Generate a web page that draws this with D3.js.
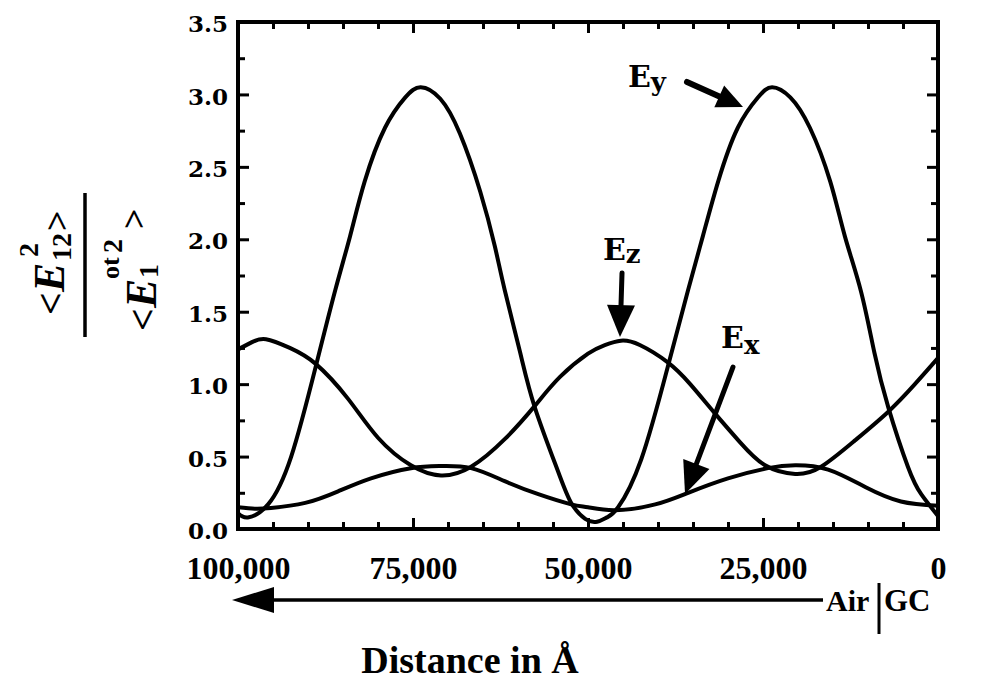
<!DOCTYPE html>
<html>
<head>
<meta charset="utf-8">
<script src="https://cdnjs.cloudflare.com/ajax/libs/d3/7.8.5/d3.min.js"></script>
<style>
  body { margin: 0; background: #fff; }
  svg { display: block; }
</style>
</head>
<body>
<svg id="chart"></svg>
<script>
// distance in Angstrom (100,000 at the left, 0 at the air/GC interface)
const eyX = [100000, 98600, 95700, 92400, 88900, 86100, 84000, 81900, 79000, 76100, 73900, 71100, 68300, 65400, 63300, 61900, 59700, 57600, 54300, 52400, 50400, 48700, 47300, 45700, 42400, 38600, 35700, 33600, 31400, 28600, 25700, 23700, 21100, 18300, 15400, 13300, 11000, 9100, 7100, 4300, 2400, 0];
const eyY = [0.11, 0.08, 0.17, 0.50, 1.12, 1.65, 2.02, 2.40, 2.77, 2.98, 3.05, 2.97, 2.73, 2.33, 1.95, 1.65, 1.22, 0.84, 0.40, 0.18, 0.07, 0.05, 0.08, 0.15, 0.48, 1.12, 1.65, 2.02, 2.40, 2.77, 2.98, 3.05, 2.98, 2.77, 2.40, 2.02, 1.64, 1.22, 0.84, 0.43, 0.24, 0.09];

const ezX = [100000, 98000, 96000, 92600, 88900, 84300, 80000, 75300, 71000, 66700, 61900, 57600, 54000, 50000, 47600, 45300, 42600, 38600, 35400, 31900, 28300, 24700, 20400, 16700, 11900, 7100, 3300, 0];
const ezY = [1.24, 1.29, 1.31, 1.25, 1.14, 0.90, 0.63, 0.44, 0.37, 0.43, 0.62, 0.85, 1.05, 1.21, 1.27, 1.30, 1.27, 1.15, 1.00, 0.80, 0.60, 0.44, 0.38, 0.43, 0.61, 0.81, 1.00, 1.18];

const exX = [100000, 97600, 95300, 90400, 85700, 81000, 75300, 71000, 66700, 61900, 57100, 52400, 50000, 46100, 40400, 35700, 30000, 24300, 20400, 15700, 10400, 5300, 0];
const exY = [0.15, 0.14, 0.145, 0.18, 0.26, 0.35, 0.42, 0.435, 0.42, 0.33, 0.24, 0.17, 0.15, 0.13, 0.17, 0.25, 0.35, 0.42, 0.44, 0.41, 0.29, 0.19, 0.16];

const xTicks = [100000, 75000, 50000, 25000, 0];
const yTicks = [0, 0.5, 1.0, 1.5, 2.0, 2.5, 3.0, 3.5];

const margin = { top: 22, right: 62, bottom: 152, left: 238 },
  width = 1000 - margin.left - margin.right,
  height = 681 - margin.top - margin.bottom;

const root = d3.select("#chart").attr("width", 1000).attr("height", 681);

const svg = root
  .append("g")
  .attr("transform", `translate(${margin.left},${margin.top})`);

const x = d3.scaleLinear().domain([100000, 0]).range([0, width]);
const y = d3.scaleLinear().domain([0, 3.5]).range([height, 0]);

const xMinor = d3.range(0, 100001, 5000).filter((d) => d % 25000 !== 0);
const yMinor = d3.range(0, 3.51, 0.25).filter((d) => d % 0.5 !== 0);

// inward ticks on all four sides
function tickRow(axis, values, size, transform) {
  svg
    .append("g")
    .attr("transform", transform)
    .call(axis.tickValues(values).tickSize(-size).tickSizeOuter(0).tickFormat(""))
    .call((g) => g.select(".domain").remove())
    .selectAll("line")
    .attr("stroke", "#000")
    .attr("stroke-width", 3);
}
tickRow(d3.axisBottom(x), xMinor, 7, `translate(0,${height})`);
tickRow(d3.axisBottom(x), xTicks, 11, `translate(0,${height})`);
tickRow(d3.axisTop(x), xMinor, 7, "translate(0,0)");
tickRow(d3.axisTop(x), xTicks, 11, "translate(0,0)");
tickRow(d3.axisLeft(y), yMinor, 7, "translate(0,0)");
tickRow(d3.axisLeft(y), yTicks, 11, "translate(0,0)");
tickRow(d3.axisRight(y), yMinor, 7, `translate(${width},0)`);
tickRow(d3.axisRight(y), yTicks, 11, `translate(${width},0)`);

// tick labels
svg
  .append("g")
  .attr("transform", `translate(0,${height})`)
  .call(d3.axisBottom(x).tickValues(xTicks).tickSize(0).tickPadding(27).tickFormat(d3.format(",")))
  .call((g) => g.select(".domain").remove())
  .selectAll("text")
  .attr("fill", "#000")
  .attr("font-family", "Liberation Serif")
  .attr("font-weight", "bold")
  .attr("font-size", 32);

svg
  .append("g")
  .call(d3.axisLeft(y).tickValues(yTicks).tickSize(0).tickPadding(10).tickFormat(d3.format(".1f")))
  .call((g) => g.select(".domain").remove())
  .selectAll("text")
  .attr("fill", "#000")
  .attr("dy", "0.42em")
  .attr("font-family", "DejaVu Serif")
  .attr("font-weight", "bold")
  .attr("font-size", 23);

// frame
svg
  .append("rect")
  .attr("width", width)
  .attr("height", height)
  .attr("fill", "none")
  .attr("stroke", "#000")
  .attr("stroke-width", 4);

// curves
const line = d3
  .line()
  .x((d) => x(d[0]))
  .y((d) => y(d[1]))
  .curve(d3.curveNatural);

[d3.zip(eyX, eyY), d3.zip(ezX, ezY), d3.zip(exX, exY)].forEach((pts) => {
  svg
    .append("path")
    .datum(pts)
    .attr("d", line)
    .attr("fill", "none")
    .attr("stroke", "#000")
    .attr("stroke-width", 4)
    .attr("stroke-linejoin", "round");
});

// annotations
function label(ax, ay, sub, dy) {
  svg
    .append("text")
    .attr("x", x(ax))
    .attr("y", y(ay))
    .attr("font-family", "DejaVu Serif")
    .attr("font-weight", "bold")
    .attr("font-size", 30)
    .text("E")
    .append("tspan")
    .attr("font-size", 26)
    .attr("dy", dy)
    .text(sub);
}

function arrow(p0, p1, len, hw, sw) {
  const x0 = x(p0[0]), y0 = y(p0[1]), x1 = x(p1[0]), y1 = y(p1[1]);
  const L = Math.hypot(x1 - x0, y1 - y0);
  const ux = (x1 - x0) / L, uy = (y1 - y0) / L;
  const bx = x1 - ux * len, by = y1 - uy * len;
  svg
    .append("line")
    .attr("x1", x0)
    .attr("y1", y0)
    .attr("x2", bx + ux * 2)
    .attr("y2", by + uy * 2)
    .attr("stroke", "#000")
    .attr("stroke-width", sw)
    .attr("stroke-linecap", "round");
  svg
    .append("polygon")
    .attr("points", [
      [x1, y1],
      [bx - uy * hw, by + ux * hw],
      [bx + uy * hw, by - ux * hw]
    ].map((p) => p.join(",")).join(" "))
    .attr("fill", "#000");
}

label(44300, 3.05, "y", 4);
label(47860, 1.857, "z", 3);
label(31000, 1.25, "x", 6);

arrow([35860, 3.086], [27860, 2.913], 26, 12, 6);
arrow([45140, 1.767], [45430, 1.325], 32, 14, 5);
arrow([29290, 1.118], [36140, 0.242], 32, 14, 5);

// bottom direction arrow and interface marks
const ay = 600;
root
  .append("line")
  .attr("x1", 270)
  .attr("y1", ay)
  .attr("x2", 823)
  .attr("y2", ay)
  .attr("stroke", "#000")
  .attr("stroke-width", 3.5);
root
  .append("polygon")
  .attr("points", `232,${ay} 274,${ay - 13} 274,${ay + 13}`)
  .attr("fill", "#000");
root
  .append("line")
  .attr("x1", 879)
  .attr("y1", 583)
  .attr("x2", 879)
  .attr("y2", 634)
  .attr("stroke", "#000")
  .attr("stroke-width", 3);

const serif = (sel) =>
  sel.attr("font-family", "Liberation Serif").attr("font-weight", "bold").attr("fill", "#000");

root.append("text").attr("x", 826).attr("y", 611).attr("font-size", 30).call(serif).text("Air");
root.append("text").attr("x", 884).attr("y", 611).attr("font-size", 31).call(serif).text("GC");
root
  .append("text")
  .attr("x", 470)
  .attr("y", 673)
  .attr("text-anchor", "middle")
  .attr("font-size", 38)
  .call(serif)
  .text("Distance in Å");

// y axis label: <E_12^2> / <E_1^ot2>, rotated
const yl = root.append("g").attr("transform", "translate(0,265) rotate(-90)");
function piece(t, u, v, size, italic) {
  yl.append("text")
    .attr("x", u)
    .attr("y", v)
    .attr("font-size", size)
    .attr("font-style", italic ? "italic" : "normal")
    .call(serif)
    .text(t);
}
piece("<", -50, 64, 40);
piece("E", -27, 64, 44, true);
piece("12", 4, 71, 28);
piece("2", 8, 38, 28);
piece(">", 34, 69, 36);

piece("<", -66, 156, 40);
piece("E", -43, 156, 44, true);
piece("1", -13, 158, 28);
piece("ot", -14, 119, 26);
piece("2", 12, 122, 28);
piece(">", 36, 146, 36);

yl.append("line")
  .attr("x1", -72)
  .attr("x2", 72)
  .attr("y1", 85)
  .attr("y2", 85)
  .attr("stroke", "#000")
  .attr("stroke-width", 3.5);
</script>
</body>
</html>
